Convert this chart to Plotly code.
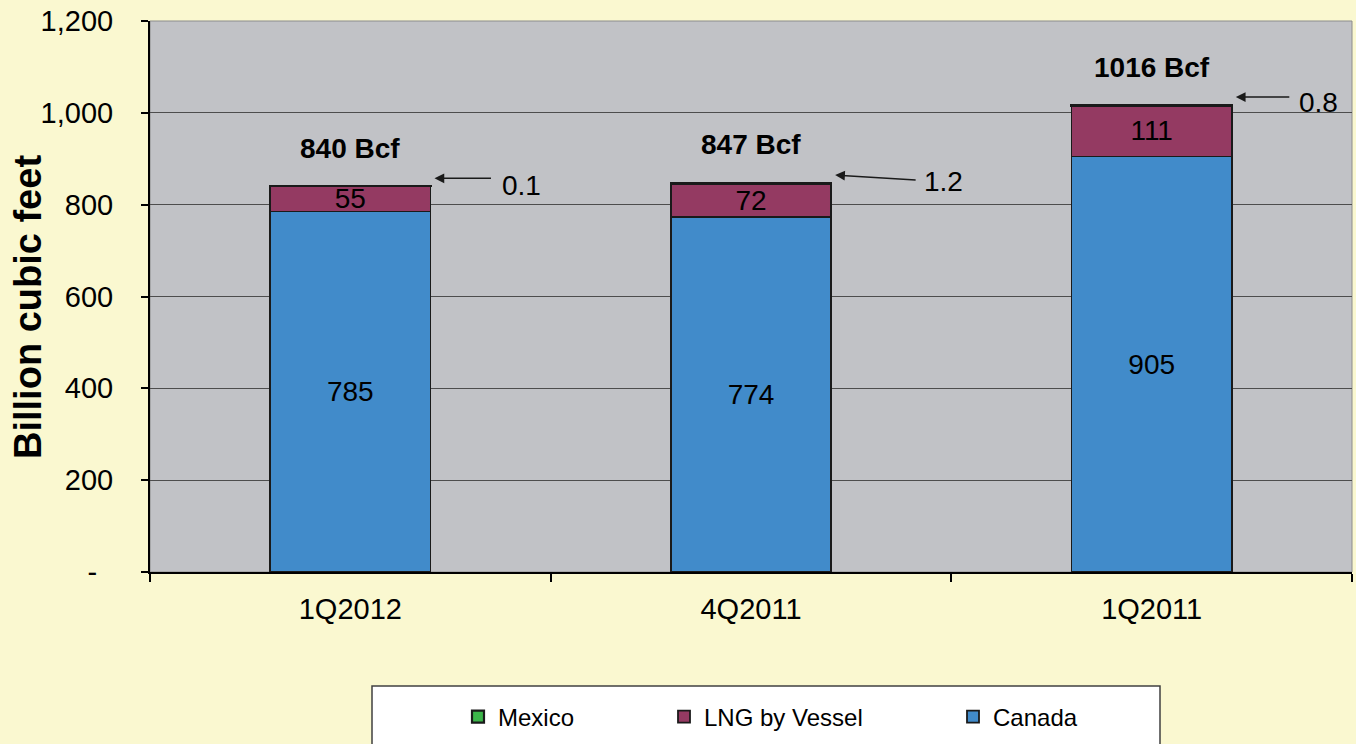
import plotly.graph_objects as go

# ---- data ----
quarters = ["1Q2012", "4Q2011", "1Q2011"]
canada = [785, 774, 905]
lng_by_vessel = [55, 72, 111]
mexico = [0.1, 1.2, 0.8]
total_labels = ["840 Bcf", "847 Bcf", "1016 Bcf"]
y_tick_vals = [0, 200, 400, 600, 800, 1000, 1200]
y_tick_text = ["-\u00a0\u00a0", "200", "400", "600", "800", "1,000", "1,200"]
y_title = "Billion cubic feet"

FONT = "Liberation Sans, Arial, sans-serif"
C_CANADA = "#418BCA"
C_LNG = "#943A62"
C_MEX = "#3CB54A"
OUTLINE = "#1a1a1a"

fig = go.Figure()
fig.add_trace(go.Bar(
    x=quarters, y=canada, name="Canada", marker=dict(color=C_CANADA, line=dict(color=OUTLINE, width=1.8)),
    text=[str(v) for v in canada], textposition="inside", insidetextanchor="middle",
    constraintext="none", textfont=dict(family=FONT, size=28, color="black"),
    width=0.4, legend="legend3", hoverinfo="skip"))
fig.add_trace(go.Bar(
    x=quarters, y=lng_by_vessel, name="LNG by Vessel", marker=dict(color=C_LNG, line=dict(color=OUTLINE, width=1.8)),
    text=[str(v) for v in lng_by_vessel], textposition="inside", insidetextanchor="middle",
    constraintext="none", textfont=dict(family=FONT, size=28, color="black"),
    width=0.4, legend="legend2", hoverinfo="skip"))
fig.add_trace(go.Bar(
    x=quarters, y=mexico, name="Mexico", marker=dict(color=C_MEX, line=dict(color=OUTLINE, width=2.2)),
    width=0.4, legend="legend", hoverinfo="skip"))

totals = [c + l + m for c, l, m in zip(canada, lng_by_vessel, mexico)]

# total labels
for i, (t, lab) in enumerate(zip(totals, total_labels)):
    fig.add_annotation(x=i, y=t, text="<b>%s</b>" % lab, showarrow=False, yshift=38,
                       font=dict(family=FONT, size=28, color="black"), xanchor="center", yanchor="middle")

# mexico arrows + labels
arrow_ax = [58, 82, 55]
arrow_ay = [0, 5, 0]
text_dx = [66, 87, 61]
text_dy = [-7, -7, -5]
for i, (t, m) in enumerate(zip(totals, mexico)):
    fig.add_annotation(x=i + 0.21, y=t, yshift=8, text="", showarrow=True,
                       ax=arrow_ax[i], ay=arrow_ay[i], arrowhead=2, arrowsize=1.3,
                       arrowwidth=1.5, arrowcolor=OUTLINE, standoff=0, startstandoff=0)
    fig.add_annotation(x=i + 0.21, y=t, xshift=text_dx[i], yshift=8 + text_dy[i], text="%g" % m,
                       showarrow=False, xanchor="left", yanchor="middle",
                       font=dict(family=FONT, size=28, color="black"))

# y-axis title
fig.add_annotation(xref="paper", yref="paper", x=(28 - 150) / 1202, y=(572 - 307) / 551,
                   text="<b>%s</b>" % y_title, textangle=-90, showarrow=False,
                   xanchor="center", yanchor="middle",
                   font=dict(family=FONT, size=38, color="black"))

# plot border (top/right)
fig.add_shape(type="rect", xref="paper", yref="paper", x0=0, x1=1, y0=0, y1=1,
              line=dict(color="#8c8c8c", width=1), layer="below")
# legend box
fig.add_shape(type="rect", xref="paper", yref="paper", x0=(372 - 150) / 1202, x1=(1160 - 150) / 1202,
              y0=-0.34, y1=(572 - 686) / 551, line=dict(color="#404040", width=1.5),
              fillcolor="white", layer="below")

legend_common = dict(orientation="h", yanchor="middle", y=(572 - 717) / 551, xanchor="left",
                     bgcolor="rgba(0,0,0,0)", borderwidth=0,
                     font=dict(family=FONT, size=24, color="black"))
fig.update_layout(
    barmode="stack",
    paper_bgcolor="#FAF8D0",
    plot_bgcolor="#C1C2C6",
    width=1356, height=744,
    margin=dict(l=150, r=4, t=21, b=172),
    font=dict(family=FONT, color="black"),
    showlegend=True,
    legend=dict(x=(478 - 170) / 1202, **legend_common),
    legend2=dict(x=(684 - 170) / 1202, **legend_common),
    legend3=dict(x=(973 - 170) / 1202, **legend_common),
    yaxis=dict(range=[0, 1200], tickvals=y_tick_vals, ticktext=y_tick_text,
               showgrid=True, gridcolor="#4d4d4d", gridwidth=1,
               showline=True, linecolor="black", linewidth=2,
               ticks="outside", ticklen=7, tickcolor="black", tickwidth=1.5,
               ticklabelstandoff=22, zeroline=False,
               tickfont=dict(family=FONT, size=29, color="black")),
    xaxis=dict(showline=True, linecolor="black", linewidth=2, ticks="outside", ticklen=8,
               tickcolor="black", tickwidth=1.5, tickson="boundaries", showgrid=False,
               ticklabelstandoff=10, range=[-0.5, 2.5],
               tickfont=dict(family=FONT, size=29, color="black")),
)

fig.write_html("out.html", config={"displayModeBar": False},
               post_script="document.body.style.margin='0';document.body.style.overflow='hidden';")
